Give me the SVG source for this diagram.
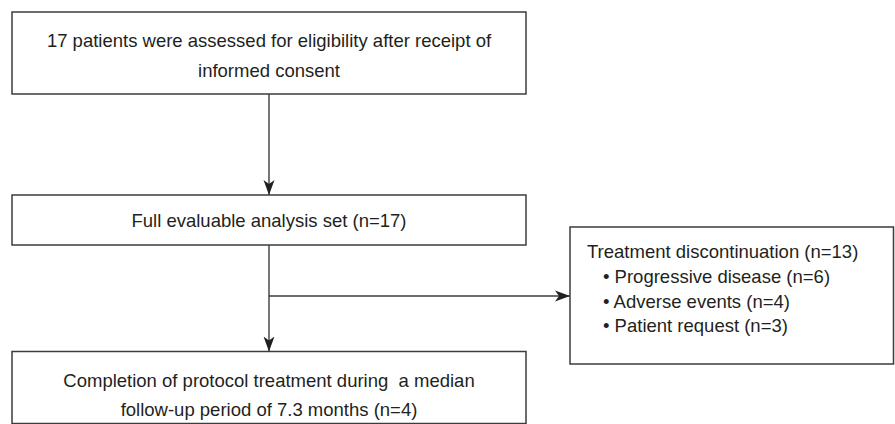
<svg xmlns="http://www.w3.org/2000/svg" width="895" height="424" viewBox="0 0 895 424">
  <style>
    .box { fill: #ffffff; stroke: #3c3c3c; stroke-width: 1.5; }
    .lbl { font-family: "Liberation Sans", Arial, Helvetica, sans-serif; font-size: 18.5px; fill: #231f20; }
    .mid { text-anchor: middle; }
    .conn { fill: none; stroke: #3c3c3c; stroke-width: 1.4; }
  </style>
  <defs>
    <marker id="arrow" viewBox="0 0 15 12" refX="15" refY="6" markerWidth="15" markerHeight="12" markerUnits="userSpaceOnUse" orient="auto">
      <path d="M0,0.5 L15,6 L0,11.5 L4,6 Z" fill="#231f20"/>
    </marker>
  </defs>
  <rect width="895" height="424" fill="#ffffff"/>

  <g id="connectors">
    <line class="conn" x1="269" y1="94" x2="269" y2="195" marker-end="url(#arrow)"/>
    <line class="conn" x1="269" y1="245" x2="269" y2="351.5" marker-end="url(#arrow)"/>
    <line class="conn" x1="269" y1="296" x2="570" y2="296" marker-end="url(#arrow)"/>
  </g>

  <g id="node-assessed">
    <rect class="box" x="12" y="12" width="514" height="82"/>
    <text class="lbl mid" x="269" y="46.5">17 patients were assessed for eligibility after receipt of</text>
    <text class="lbl mid" x="269" y="76.5">informed consent</text>
  </g>

  <g id="node-fas">
    <rect class="box" x="12" y="195" width="514" height="50"/>
    <text class="lbl mid" x="269" y="226.5">Full evaluable analysis set (n=17)</text>
  </g>

  <g id="node-discontinuation">
    <rect class="box" x="570" y="227" width="323.5" height="137"/>
    <text class="lbl" x="587" y="258">Treatment discontinuation (n=13)</text>
    <text class="lbl" x="603" y="283">• Progressive disease (n=6)</text>
    <text class="lbl" x="603" y="307.5">• Adverse events (n=4)</text>
    <text class="lbl" x="603" y="332">• Patient request (n=3)</text>
  </g>

  <g id="node-completion">
    <rect class="box" x="12" y="351.5" width="514" height="72"/>
    <text class="lbl mid" x="269" y="386.5" xml:space="preserve">Completion of protocol treatment during  a median</text>
    <text class="lbl mid" x="269" y="415.5">follow-up period of 7.3 months (n=4)</text>
  </g>
</svg>
